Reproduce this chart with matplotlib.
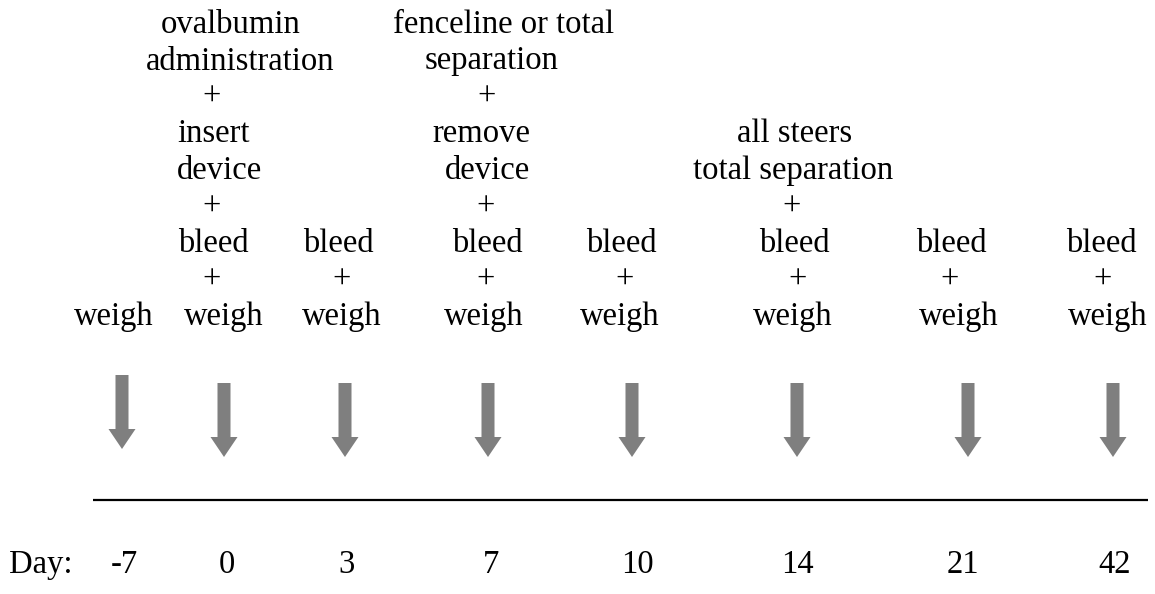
import matplotlib.pyplot as plt

plt.rcParams["font.family"] = ["Liberation Serif", "DejaVu Serif"]

# timeline data
DAYS = ["-7", "0", "3", "7", "10", "14", "21", "42"]
EVENTS = [
    ["weigh"],
    ["ovalbumin", "administration", "+", "insert", "device", "+", "bleed", "+", "weigh"],
    ["bleed", "+", "weigh"],
    ["fenceline or total", "separation", "+", "remove", "device", "+", "bleed", "+", "weigh"],
    ["bleed", "+", "weigh"],
    ["all steers", "total separation", "+", "bleed", "+", "weigh"],
    ["bleed", "+", "weigh"],
    ["bleed", "+", "weigh"],
]

# layout (pixel coordinates of the 1155x594 canvas)
EVENT_X = [
    [114],
    [231, 240, 212, 214, 220, 212, 213, 212, 224],
    [338, 342, 342],
    [504, 492, 487, 481, 487, 486, 487, 486, 484],
    [621, 625, 620],
    [795, 793, 792, 794, 798, 793],
    [951, 950, 959],
    [1101, 1103, 1108],
]
DAY_X = [124, 227, 347, 491, 637, 797, 963, 1115]
ARROW_X = [122, 224, 345, 488, 632, 797, 968, 1113]
ARROW_TOP = [375, 383, 383, 383, 383, 383, 383, 383]

BOTTOM_BASELINE = 325
LINE_STEP = 36.5
FS = 23.5
GREY = "#7f7f7f"

fig = plt.figure(figsize=(11.55, 5.94), dpi=100)
ax = fig.add_axes([0, 0, 1, 1])
ax.set_xlim(0, 1155)
ax.set_ylim(594, 0)
ax.axis("off")

for lines, xs in zip(EVENTS, EVENT_X):
    n = len(lines)
    for i, (txt, x) in enumerate(zip(lines, xs)):
        y = BOTTOM_BASELINE - (n - 1 - i) * LINE_STEP
        ax.text(x, y, txt, ha="center", va="baseline", fontsize=FS)

for x, top in zip(ARROW_X, ARROW_TOP):
    ax.arrow(x, top, 0, 54, width=13, head_width=27, head_length=20,
             length_includes_head=False, color=GREY, linewidth=0)

ax.plot([93, 1148], [500, 500], color="black", linewidth=1.6, solid_capstyle="butt")

ax.text(41, 573, "Day:", ha="center", va="baseline", fontsize=FS)
for x, d in zip(DAY_X, DAYS):
    ax.text(x, 573, d, ha="center", va="baseline", fontsize=FS)

fig.savefig("out.png", dpi=100)
